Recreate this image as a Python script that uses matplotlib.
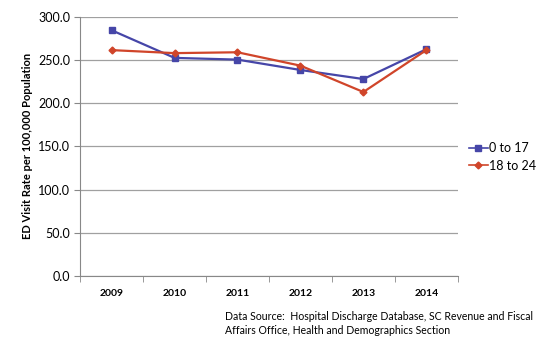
import matplotlib
matplotlib.use("Agg")
import matplotlib.pyplot as plt
import numpy as np

years = ["2009", "2010", "2011", "2012", "2013", "2014"]
series_a = [284.5, 252.5, 250.5, 238.5, 228.0, 262.5]
series_b = [261.5, 258.0, 259.0, 243.5, 213.0, 261.5]
labels = ["0 to 17", "18 to 24"]

plt.rcParams['font.family'] = ['Lato', 'DejaVu Sans']

fig = plt.figure(figsize=(5.45, 3.37), dpi=100)
ax = fig.add_axes([0.147, 0.181, 0.693, 0.769])

x = np.arange(len(years))
ax.plot(x, series_a, color="#4646A8", marker="s", markersize=5, linewidth=1.6, label=labels[0])
ax.plot(x, series_b, color="#D0452A", marker="D", markersize=3.5, linewidth=1.6, label=labels[1])

ax.set_ylim(0, 300)
ax.set_xlim(-0.5, len(years) - 0.5)
ax.set_yticks(np.arange(0, 301, 50))
ax.set_yticklabels([f"{v:.1f}" for v in np.arange(0, 301, 50)], fontsize=9)
ax.set_xticks(x)
ax.set_xticklabels(years, fontsize=7.5, fontweight="bold")
ax.tick_params(axis="x", which="major", length=0, pad=9)
ax.set_xticks(np.arange(-0.5, len(years), 1), minor=True)
ax.tick_params(axis="x", which="minor", length=4, color="#888888")
ax.tick_params(axis="y", length=4, color="#888888", pad=3)

ax.grid(axis="y", color="#A0A0A0", linewidth=0.9)
ax.set_axisbelow(True)
for s in ["top", "right"]:
    ax.spines[s].set_visible(False)
ax.spines["left"].set_color("#888888")
ax.spines["bottom"].set_color("#888888")

ax.set_ylabel("ED Visit Rate per 100,000 Population", fontsize=8, fontweight="bold", labelpad=4)

leg = ax.legend(loc="center left", bbox_to_anchor=(1.0, 0.46), frameon=False, fontsize=9,
                handlelength=1.5, handletextpad=0.1, labelspacing=0.45)
for h in leg.get_lines():
    h.set_linewidth(1.2)

fig.text(0.413, 0.003, "Data Source:  Hospital Discharge Database, SC Revenue and Fiscal\nAffairs Office, Health and Demographics Section",
         fontsize=7.6, va="bottom", ha="left", linespacing=1.3)

fig.savefig("out.png", dpi=100)
